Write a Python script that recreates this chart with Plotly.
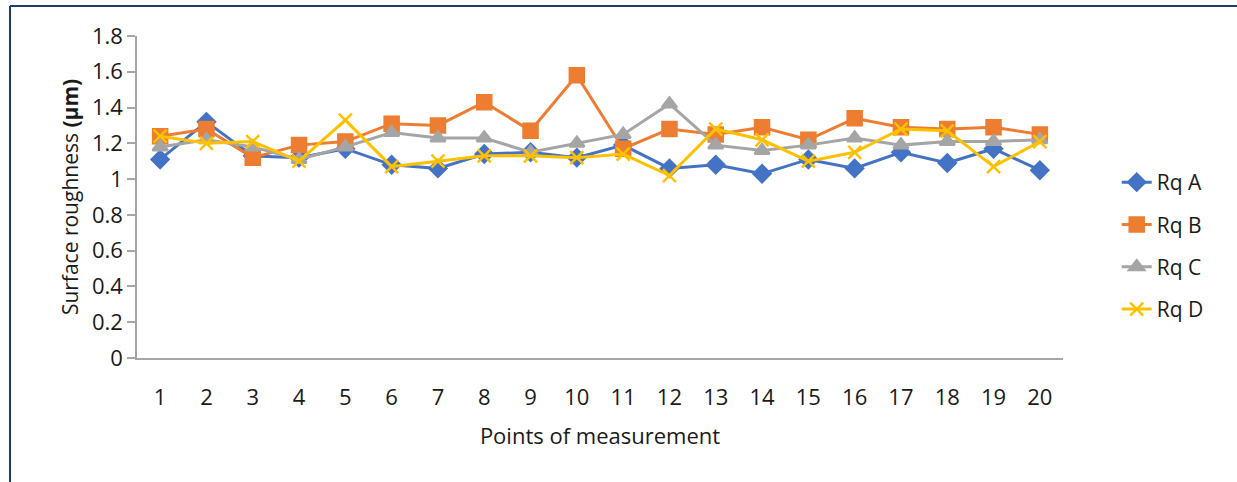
import plotly.graph_objects as go

points = [str(i) for i in range(1, 21)]

rq_a = [1.11, 1.32, 1.13, 1.12, 1.17, 1.08, 1.06, 1.14, 1.15, 1.12, 1.19, 1.06, 1.08, 1.03, 1.11,
        1.06, 1.15, 1.09, 1.17, 1.05]
rq_b = [1.24, 1.28, 1.12, 1.19, 1.21, 1.31, 1.30, 1.43, 1.27, 1.58, 1.17, 1.28, 1.25, 1.29, 1.22,
        1.34, 1.29, 1.28, 1.29, 1.25]
rq_c = [1.18, 1.22, 1.18, 1.11, 1.18, 1.26, 1.23, 1.23, 1.15, 1.20, 1.25, 1.42, 1.19, 1.16, 1.19,
        1.23, 1.19, 1.21, 1.21, 1.22]
rq_d = [1.24, 1.20, 1.21, 1.10, 1.33, 1.07, 1.10, 1.13, 1.13, 1.12, 1.14, 1.02, 1.28, 1.22, 1.10,
        1.15, 1.28, 1.27, 1.07, 1.21]

series = [
    ("Rq A", rq_a, "#4472C4", "diamond", 13),
    ("Rq B", rq_b, "#ED7D31", "square", 14),
    ("Rq C", rq_c, "#A5A5A5", "triangle-up", 13),
    ("Rq D", rq_d, "#FFC000", "x-thin", 13),
]

fig = go.Figure()
for name, vals, color, symbol, size in series:
    fig.add_trace(go.Scatter(
        x=points, y=vals, name=name, legendgroup=name,
        mode="lines+markers",
        line=dict(color=color, width=3),
        marker=dict(symbol=symbol, size=size, color=color,
                    line=dict(color=color, width=2.5)),
    ))

font = "Open Sans, Noto Sans, sans-serif"
axis_color = "#A6A6A6"
text_color = "#1A1A1A"
fs = 22

# plot-area pixel geometry, used to place the frame lines in paper units
left, right, top, bottom = 137, 1063, 36, 358
W, H = right - left, bottom - top
fx = (10 - left) / W
fy = (bottom - 6) / H

fig.update_layout(
    width=1237, height=482,
    margin=dict(l=left, r=1237 - right, t=top, b=482 - bottom),
    paper_bgcolor="white", plot_bgcolor="white",
    font=dict(family=font, size=fs, color=text_color),
    showlegend=True,
    legend=dict(x=1.058, y=(bottom - 246) / H, xanchor="left", yanchor="middle",
                font=dict(size=fs - 1, color=text_color),
                tracegroupgap=12, bgcolor="rgba(0,0,0,0)"),
    xaxis=dict(
        type="category", range=[-0.5, 19.5],
        showline=True, linecolor=axis_color, linewidth=1.5,
        ticks="outside", ticklen=19, tickcolor="rgba(0,0,0,0)",
        showgrid=False, zeroline=False,
        tickfont=dict(size=fs, color=text_color),
        title=dict(text="Points of measurement", font=dict(size=fs, color=text_color),
                   standoff=18),
    ),
    yaxis=dict(
        range=[0, 1.8], dtick=0.2, tickformat="~g",
        showline=True, linecolor=axis_color, linewidth=1.5,
        ticks="outside", ticklen=8, tickcolor=axis_color, tickwidth=1.5,
        showgrid=False, zeroline=False,
        tickfont=dict(size=fs, color=text_color),
        title=dict(text="Surface roughness <b>(μm)</b>",
                   font=dict(size=fs - 1, color=text_color), standoff=8),
    ),
    shapes=[
        dict(type="line", xref="paper", yref="paper", x0=fx, x1=fx, y0=-0.6, y1=fy,
             line=dict(color="#1F3A73", width=2)),
        dict(type="line", xref="paper", yref="paper", x0=fx, x1=1.3, y0=fy, y1=fy,
             line=dict(color="#1F3A73", width=2)),
    ],
)

fig.write_html("out.html")
